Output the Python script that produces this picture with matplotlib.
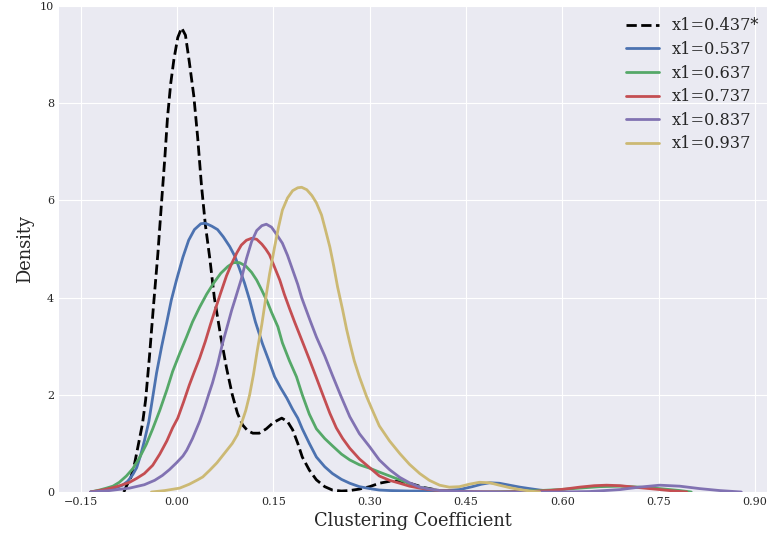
import matplotlib
matplotlib.use("Agg")
import matplotlib.pyplot as plt
import numpy as np

# density curves (x = clustering coefficient, y = density)
labels = ["x1=0.437*", "x1=0.537", "x1=0.637", "x1=0.737", "x1=0.837", "x1=0.937"]

x_0437 = [-0.083, -0.079, -0.072, -0.066, -0.060, -0.054, -0.049, -0.043, -0.037, -0.030,
          -0.024, -0.019, -0.015, -0.010, -0.005, 0.001, 0.007, 0.013, 0.019, 0.026,
          0.032, 0.038, 0.044, 0.051, 0.058, 0.068, 0.077, 0.086, 0.094, 0.102,
          0.110, 0.118, 0.128, 0.139, 0.150, 0.163, 0.172, 0.180, 0.188, 0.195,
          0.206, 0.217, 0.230, 0.242, 0.256, 0.269, 0.284, 0.300, 0.315, 0.331,
          0.347, 0.365, 0.385, 0.409, 0.440]
y_0437 = [0.00, 0.12, 0.30, 0.60, 1.00, 1.40, 1.90, 2.80, 3.80, 4.90,
          6.00, 6.90, 7.70, 8.40, 8.90, 9.35, 9.55, 9.40, 8.85, 8.15,
          7.30, 6.30, 5.50, 4.80, 4.00, 3.20, 2.55, 2.00, 1.62, 1.38,
          1.26, 1.21, 1.21, 1.30, 1.43, 1.52, 1.45, 1.28, 1.00, 0.72,
          0.45, 0.25, 0.11, 0.04, 0.02, 0.03, 0.06, 0.11, 0.18, 0.22,
          0.22, 0.17, 0.09, 0.03, 0.00]

x_0537 = [-0.135, -0.121, -0.105, -0.093, -0.085, -0.077, -0.069, -0.063, -0.057, -0.051,
          -0.044, -0.038, -0.032, -0.024, -0.016, -0.009, -0.001, 0.009, 0.018, 0.027,
          0.037, 0.044, 0.054, 0.063, 0.072, 0.082, 0.090, 0.097, 0.105, 0.113,
          0.122, 0.133, 0.143, 0.152, 0.161, 0.171, 0.180, 0.188, 0.195, 0.206,
          0.217, 0.230, 0.242, 0.256, 0.269, 0.284, 0.300, 0.315, 0.331, 0.362,
          0.409, 0.440, 0.460, 0.474, 0.487, 0.502, 0.518, 0.534, 0.549, 0.565,
          0.580, 0.604]
y_0537 = [0.00, 0.02, 0.06, 0.10, 0.14, 0.22, 0.36, 0.50, 0.75, 1.05,
          1.45, 1.95, 2.45, 3.00, 3.50, 3.95, 4.36, 4.83, 5.18, 5.40,
          5.52, 5.53, 5.47, 5.40, 5.25, 5.05, 4.85, 4.60, 4.30, 3.95,
          3.50, 3.05, 2.70, 2.37, 2.15, 1.93, 1.70, 1.52, 1.30, 1.00,
          0.72, 0.52, 0.38, 0.26, 0.18, 0.11, 0.07, 0.04, 0.03, 0.02,
          0.02, 0.05, 0.11, 0.16, 0.19, 0.18, 0.14, 0.10, 0.07, 0.04,
          0.02, 0.00]

x_0637 = [-0.135, -0.121, -0.110, -0.100, -0.090, -0.079, -0.069, -0.058, -0.048, -0.038,
          -0.027, -0.016, -0.007, 0.004, 0.015, 0.024, 0.035, 0.046, 0.057, 0.068,
          0.079, 0.088, 0.097, 0.107, 0.116, 0.124, 0.132, 0.141, 0.147, 0.157,
          0.164, 0.175, 0.186, 0.195, 0.206, 0.217, 0.230, 0.242, 0.256, 0.269,
          0.284, 0.300, 0.315, 0.331, 0.347, 0.362, 0.378, 0.393, 0.409, 0.432,
          0.471, 0.518, 0.565, 0.596, 0.627, 0.658, 0.690, 0.720, 0.752, 0.783,
          0.801]
y_0637 = [0.00, 0.04, 0.08, 0.12, 0.20, 0.33, 0.48, 0.72, 0.98, 1.30,
          1.68, 2.10, 2.48, 2.85, 3.20, 3.50, 3.80, 4.07, 4.30, 4.50,
          4.64, 4.72, 4.72, 4.65, 4.52, 4.36, 4.15, 3.90, 3.70, 3.40,
          3.07, 2.70, 2.37, 2.00, 1.60, 1.30, 1.10, 0.95, 0.78, 0.66,
          0.56, 0.49, 0.41, 0.33, 0.25, 0.17, 0.10, 0.06, 0.03, 0.01,
          0.00, 0.01, 0.03, 0.05, 0.08, 0.11, 0.12, 0.10, 0.07, 0.03,
          0.00]

x_0737 = [-0.135, -0.113, -0.097, -0.087, -0.074, -0.063, -0.051, -0.038, -0.027, -0.016,
          -0.007, 0.001, 0.010, 0.019, 0.027, 0.035, 0.044, 0.052, 0.060, 0.068,
          0.077, 0.085, 0.093, 0.100, 0.108, 0.116, 0.124, 0.132, 0.138, 0.144,
          0.152, 0.160, 0.167, 0.175, 0.183, 0.195, 0.206, 0.217, 0.227, 0.238,
          0.248, 0.258, 0.269, 0.284, 0.300, 0.315, 0.331, 0.347, 0.362, 0.378,
          0.393, 0.409, 0.440, 0.502, 0.549, 0.580, 0.604, 0.627, 0.650, 0.669,
          0.690, 0.720, 0.752, 0.775, 0.794]
y_0737 = [0.00, 0.05, 0.10, 0.14, 0.20, 0.28, 0.38, 0.55, 0.78, 1.05,
          1.32, 1.52, 1.85, 2.20, 2.48, 2.75, 3.10, 3.45, 3.78, 4.10,
          4.45, 4.70, 4.92, 5.08, 5.18, 5.22, 5.20, 5.10, 5.00, 4.88,
          4.62, 4.36, 4.07, 3.78, 3.50, 3.10, 2.73, 2.35, 2.00, 1.62,
          1.32, 1.10, 0.90, 0.68, 0.50, 0.33, 0.24, 0.18, 0.12, 0.08,
          0.05, 0.03, 0.01, 0.00, 0.01, 0.03, 0.06, 0.10, 0.13, 0.14,
          0.13, 0.09, 0.05, 0.02, 0.00]

x_0837 = [-0.135, -0.105, -0.074, -0.051, -0.035, -0.023, -0.012, -0.001, 0.009, 0.015,
          0.024, 0.035, 0.043, 0.049, 0.055, 0.063, 0.071, 0.079, 0.085, 0.090,
          0.100, 0.108, 0.116, 0.124, 0.132, 0.139, 0.147, 0.155, 0.164, 0.172,
          0.180, 0.188, 0.194, 0.199, 0.208, 0.217, 0.230, 0.242, 0.255, 0.269,
          0.284, 0.300, 0.315, 0.331, 0.347, 0.362, 0.378, 0.393, 0.409, 0.440,
          0.502, 0.596, 0.643, 0.690, 0.720, 0.752, 0.783, 0.814, 0.845, 0.879]
y_0837 = [0.00, 0.03, 0.08, 0.15, 0.24, 0.34, 0.46, 0.60, 0.74, 0.86,
          1.10, 1.45, 1.75, 2.00, 2.24, 2.62, 3.07, 3.45, 3.74, 3.95,
          4.38, 4.80, 5.15, 5.38, 5.48, 5.51, 5.45, 5.30, 5.12, 4.87,
          4.57, 4.27, 4.00, 3.82, 3.50, 3.19, 2.80, 2.40, 1.98, 1.55,
          1.20, 0.93, 0.66, 0.46, 0.30, 0.19, 0.10, 0.06, 0.03, 0.01,
          0.00, 0.00, 0.01, 0.05, 0.10, 0.14, 0.12, 0.07, 0.03, 0.00]

x_0937 = [-0.040, -0.019, 0.004, 0.019, 0.032, 0.040, 0.051, 0.062, 0.074, 0.086,
          0.094, 0.100, 0.107, 0.113, 0.119, 0.125, 0.132, 0.138, 0.144, 0.152,
          0.158, 0.164, 0.172, 0.180, 0.188, 0.194, 0.202, 0.210, 0.217, 0.225,
          0.231, 0.238, 0.244, 0.250, 0.258, 0.264, 0.269, 0.276, 0.284, 0.295,
          0.305, 0.315, 0.331, 0.347, 0.362, 0.378, 0.393, 0.409, 0.424, 0.440,
          0.455, 0.471, 0.487, 0.502, 0.518, 0.534, 0.549, 0.565]
y_0937 = [0.00, 0.03, 0.08, 0.16, 0.25, 0.31, 0.45, 0.60, 0.80, 1.00,
          1.18, 1.40, 1.68, 2.00, 2.42, 2.92, 3.45, 3.98, 4.48, 5.05,
          5.45, 5.80, 6.05, 6.20, 6.26, 6.27, 6.22, 6.10, 5.95, 5.70,
          5.40, 5.04, 4.65, 4.22, 3.74, 3.35, 3.07, 2.70, 2.37, 1.97,
          1.66, 1.36, 1.05, 0.79, 0.57, 0.38, 0.24, 0.14, 0.10, 0.11,
          0.16, 0.20, 0.19, 0.14, 0.09, 0.05, 0.02, 0.00]

curves = [(x_0437, y_0437), (x_0537, y_0537), (x_0637, y_0637),
          (x_0737, y_0737), (x_0837, y_0837), (x_0937, y_0937)]
colors = ["black", "#4C72B0", "#55A868", "#C44E52", "#8172B2", "#CCB974"]
styles = ["--", "-", "-", "-", "-", "-"]

plt.style.use("seaborn-v0_8-darkgrid")
plt.rcParams["font.family"] = ["DejaVu Serif"]

fig = plt.figure(figsize=(7.67, 5.42), dpi=100)
ax = fig.add_axes([59 / 767, 50 / 542, 708 / 767, 486 / 542])

for (xs, ys), lab, c, ls in zip(curves, labels, colors, styles):
    ax.plot(xs, ys, ls, color=c, linewidth=2, label=lab,
            solid_joinstyle="round", dash_joinstyle="round")

ax.set_xlim(-0.184, 0.919)
ax.set_ylim(0, 10)
ax.set_xticks(np.arange(-0.15, 0.91, 0.15))
ax.set_yticks(np.arange(0, 11, 2))
ax.tick_params(labelsize=8, colors="#262626")
ax.set_xlabel("Clustering Coefficient", fontsize=12.8, color="#262626")
ax.set_ylabel("Density", fontsize=12.8, color="#262626")
ax.legend(loc="upper right", bbox_to_anchor=(1.0, 0.993), fontsize=11.6,
          frameon=False, handlelength=2.0, labelspacing=0.41, borderaxespad=0.1)

fig.savefig("out.png", dpi=100)
